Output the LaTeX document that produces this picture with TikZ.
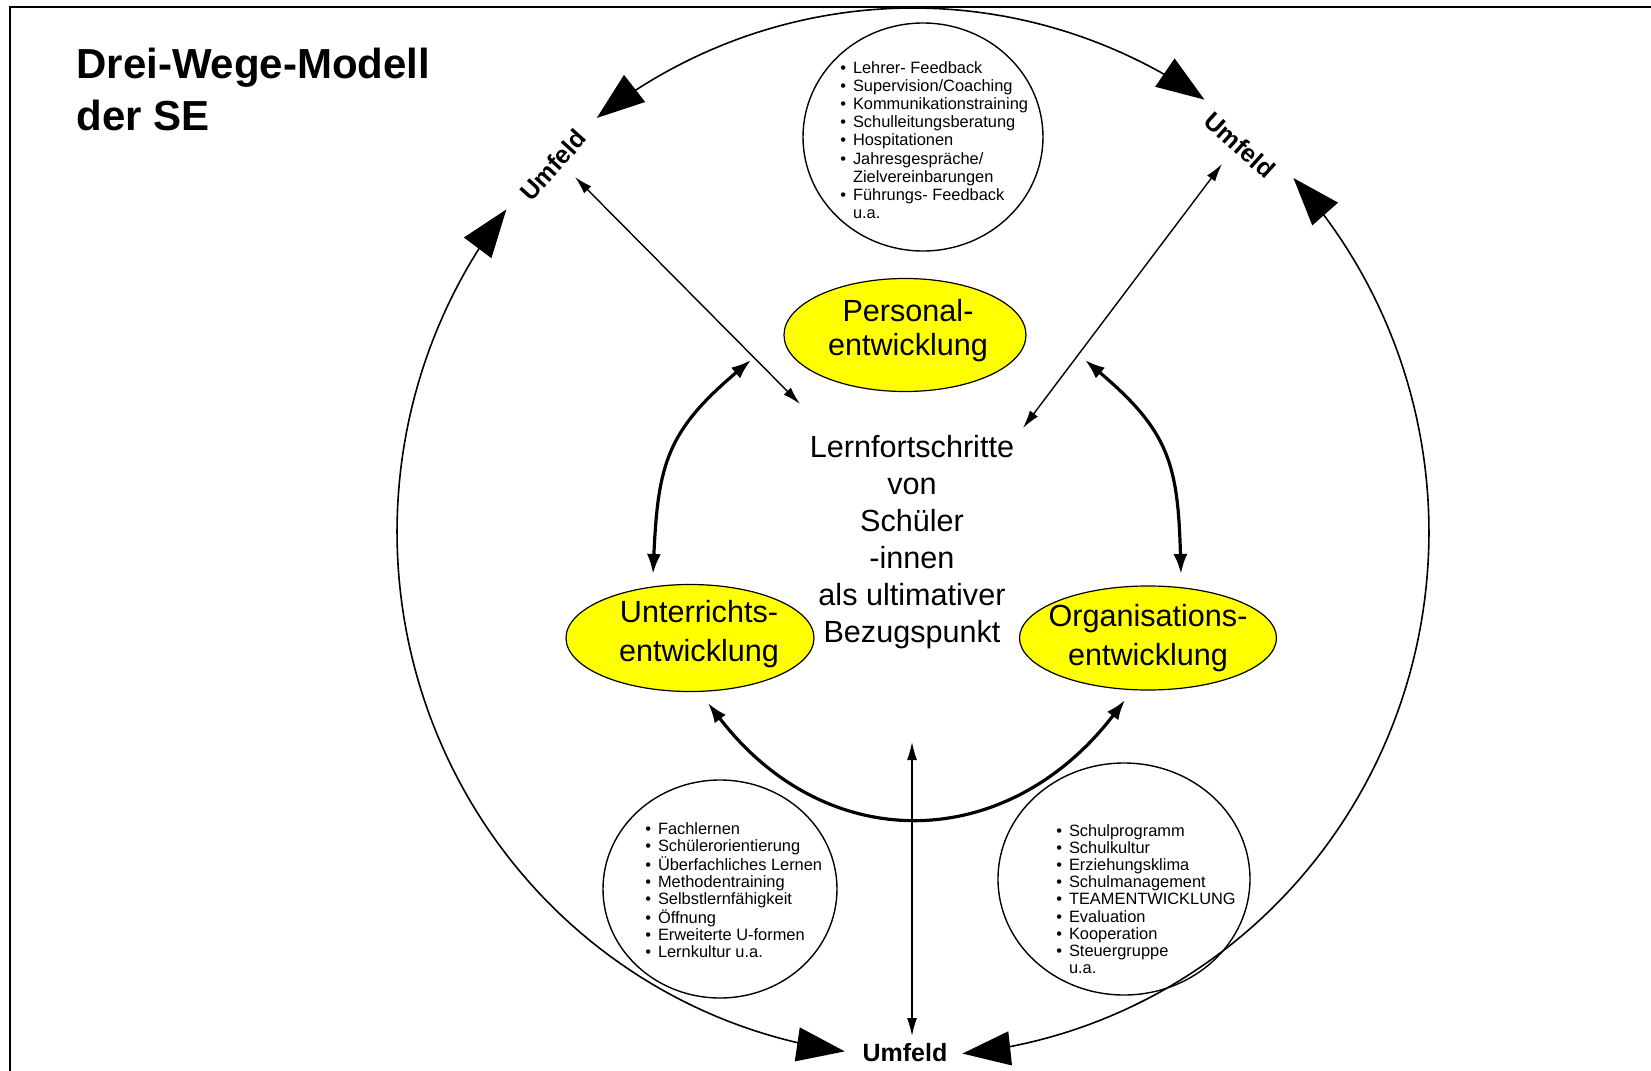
\documentclass[tikz,border=0pt]{standalone}
\usepackage{fontspec}
\setmainfont{Liberation Sans}
\usetikzlibrary{arrows.meta,shapes.geometric}
\definecolor{ylw}{RGB}{255,255,0}
\newcommand{\lbul}{\makebox[6.3pt][l]{\textbullet}}
\newcommand{\lind}{\hspace*{6.3pt}}
\begin{document}
\begin{tikzpicture}[x=0.5pt,y=-0.5pt,
  yell/.style={ellipse, draw=black, line width=0.6pt, fill=ylw, inner sep=0pt},
  listcirc/.style={ellipse, draw=black, line width=0.7pt, inner sep=0pt},
  bigtxt/.style={align=center, font=\fontsize{15.3}{18.5}\selectfont, inner sep=0pt},
  listtxt/.style={align=left, inner sep=0pt, anchor=west},
  umf/.style={font=\bfseries\fontsize{12.5}{14}\selectfont, inner sep=1pt},
  outerarr/.style={line width=0.8pt, {Triangle[length=24pt,width=17pt]}-{Triangle[length=24pt,width=17pt]}},
  thinarr/.style={line width=0.7pt, {Latex[length=9pt,width=5pt]}-{Latex[length=9pt,width=5pt]}},
  thickarr/.style={line width=1.6pt, {Latex[length=10pt,width=7pt]}-{Latex[length=10pt,width=7pt]}},
]
\useasboundingbox (0,0) rectangle (1651,1071);
% frame
\draw[line width=1pt] (10,1071) -- (10,6.5) -- (1651,6.5);

% title
\node[anchor=north west, align=left, font=\bfseries\fontsize{21}{26}\selectfont, inner sep=0pt] (title) at (76,48) {Drei-Wege-Modell\\der SE};

% Umfeld labels
\node[umf, rotate=48] (uL) at (553,165) {Umfeld};
\node[umf, rotate=-42] (uR) at (1240,145) {Umfeld};
\node[umf] (uB) at (905,1053) {Umfeld};

% outer arcs
\draw[outerarr] plot[domain=127.8:55.6, samples=90] ({913+516*cos(\x)},{532-524*sin(\x)});
\draw[outerarr] plot[domain=142:262.4, samples=90] ({913+516*cos(\x)},{532-524*sin(\x)});
\draw[outerarr] plot[domain=42.5:-84.5, samples=90] ({913+516*cos(\x)},{532-524*sin(\x)});

% list circles
\node[listcirc, minimum width=120pt, minimum height=114pt] (cTop) at (923,137) {};
\node[listcirc, minimum width=117pt, minimum height=109pt] (cBL) at (720,889) {};
\node[listcirc, minimum width=126pt, minimum height=116pt] (cBR) at (1124,879) {};

\node[listtxt, font=\fontsize{8.2}{9.1}\selectfont] (tTop) at (840,140) {%
\lbul Lehrer- Feedback\\
\lbul Supervision/Coaching\\
\lbul Kommunikationstraining\\
\lbul Schulleitungsberatung\\
\lbul Hospitationen\\
\lbul Jahresgespräche/\\
\lind Zielvereinbarungen\\
\lbul Führungs- Feedback\\
\lind u.a.};

\node[listtxt, font=\fontsize{8.2}{8.5}\selectfont] (tBL) at (645,890) {%
\lbul Fachlernen\\
\lbul Schülerorientierung\\
\lbul Überfachliches Lernen\\
\lbul Methodentraining\\
\lbul Selbstlernfähigkeit\\
\lbul Öffnung\\
\lbul Erweiterte U-formen\\
\lbul Lernkultur u.a.};

\node[listtxt, font=\fontsize{8.2}{8.6}\selectfont] (tBR) at (1056,899) {%
\lbul Schulprogramm\\
\lbul Schulkultur\\
\lbul Erziehungsklima\\
\lbul Schulmanagement\\
\lbul TEAMENTWICKLUNG\\
\lbul Evaluation\\
\lbul Kooperation\\
\lbul Steuergruppe\\
\lind u.a.};

% yellow ellipses
\node[yell, minimum width=121pt, minimum height=56.5pt] (pe) at (905,335) {};
\node[yell, minimum width=124pt, minimum height=53.5pt] (ue) at (690,638) {};
\node[yell, minimum width=128.5pt, minimum height=52pt] (oe) at (1148,638) {};
\node[bigtxt, font=\fontsize{15.3}{17}\selectfont] (peT) at (908,331) {Personal-\\entwicklung};
\node[bigtxt, font=\fontsize{15.3}{19.5}\selectfont] (ueT) at (699,634) {Unterrichts-\\entwicklung};
\node[bigtxt, font=\fontsize{15.3}{19.5}\selectfont] (oeT) at (1148,638) {Organisations-\\entwicklung};

% central text
\node[bigtxt] (center) at (912,542) {Lernfortschritte\\von\\Schüler\\-innen\\als ultimativer\\Bezugspunkt};

% thin arrows
\coordinate (tl1) at (575,177); \coordinate (tl2) at (800,404);
\coordinate (tr1) at (1222,164); \coordinate (tr2) at (1023,428);
\coordinate (tb1) at (912,742); \coordinate (tb2) at (912,1036);
\draw[thinarr] (tl1) -- (tl2);
\draw[thinarr] (tr1) -- (tr2);
\draw[thinarr] (tb1) -- (tb2);

% thick curved arrows
\coordinate (kl1) at (751,360); \coordinate (kl2) at (653,574);
\coordinate (kr1) at (1085,360); \coordinate (kr2) at (1181,574);
\coordinate (kb1) at (708,703); \coordinate (kb2) at (1125,700);
\draw[thickarr] (kl1) .. controls (667,431) and (658,464) .. (kl2);
\draw[thickarr] (kr1) .. controls (1169,431) and (1178,464) .. (kr2);
\draw[thickarr] (kb1) .. controls (826,857) and (1007,854) .. (kb2);
\end{tikzpicture}
\end{document}
